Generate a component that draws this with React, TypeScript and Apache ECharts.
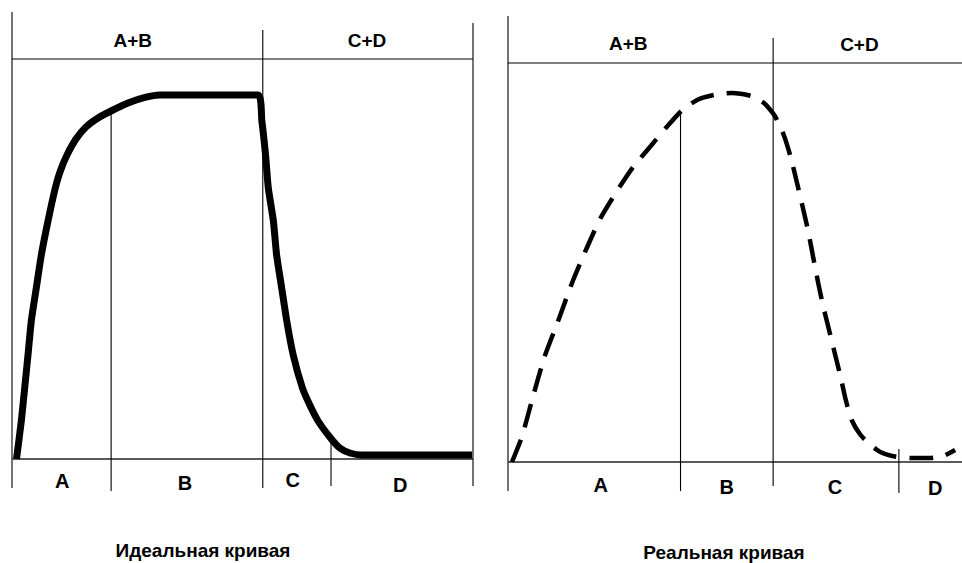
import React, { useEffect, useRef } from "react";
import * as echarts from "echarts";

// ---- Data (units: x 0..100 across a panel, y 0 = baseline, 100 = top line) ----
const idealCurve: number[][] = [
  [0.98, 0], [2.02, 9.5], [2.75, 17.75], [3.47, 26], [4.19, 34.5], [5.27, 42.75],
  [6.36, 51], [7.81, 59.5], [9.39, 67.75], [10.48, 72], [11.93, 76], [13.88, 80],
  [16.05, 83], [18.66, 85.25], [21.48, 87], [25.16, 89], [28.85, 90.4], [32.1, 91],
  [53.36, 91],
  [54.2, 84.5], [55, 76], [55.6, 67.75], [56.7, 59.5], [57.4, 51], [58.5, 42.75],
  [59.6, 34.5], [61, 26], [63, 17.75], [64.6, 13.5], [66.4, 9.5], [69.1, 5.25],
  [71.1, 2.75], [73.3, 1.5], [75.9, 1], [99.8, 1],
];
const realCurve: number[][] = [
  [0.87, 0], [3.04, 6.25], [5.42, 16], [8.03, 26.25], [11.28, 36], [14.1, 44.75],
  [17.35, 53.5], [20.4, 61], [23.86, 67.5], [27.55, 73.75], [31.45, 79], [35.14, 84],
  [38.18, 87.75], [41.65, 90.5], [45.34, 91.75], [49.24, 92.25], [53.58, 91.5],
  [56.4, 89.75], [58.79, 86.5], [60.74, 81.75], [62.26, 76.25], [63.56, 70.25],
  [64.86, 64], [66.16, 57.5], [67.25, 51], [68.33, 44.75], [69.41, 39], [70.72, 33],
  [72.02, 27], [73.32, 21], [74.4, 15.5], [75.7, 10.5], [77.66, 6.75], [79.83, 4.25],
  [82, 2.5], [84.6, 1.5], [88.72, 1], [93.06, 1], [95.9, 1.5], [98.48, 3],
];
// frame segments [x1, y1, x2, y2]
const idealFrame: number[][] = [
  [0, 111.75, 0, -7.25],
  [0, 100, 100, 100],
  [0, 0, 100, 0],
  [21.5, 87, 21.5, -8],
  [54.4, 107.25, 54.4, -7.25],
  [69.2, 4.5, 69.2, -6.75],
  [100, 109, 100, -6.75],
];
const realFrame: number[][] = [
  [0, 111.5, 0, -7.25],
  [0, 99.75, 100, 99.75],
  [0, 0, 100, 0],
  [38, 87.5, 38, -7.25],
  [58.4, 106, 58.4, -6],
  [86.1, 3.25, 86.1, -7.75],
];
const topLabels = ["A+B", "C+D"];
const bottomLabels = ["A", "B", "C", "D"];
const idealTopPos: number[][] = [[26.2, 104.75], [77, 104.75]];
const idealBottomPos: number[][] = [[10.9, -5.5], [37.5, -6], [60.9, -5.25], [84.2, -6.5]];
const realTopPos: number[][] = [[26.5, 104.75], [77.4, 104.5]];
const realBottomPos: number[][] = [[20.4, -5.75], [48.2, -6.25], [72, -6.25], [94.1, -6.5]];
const titles = ["Идеальная кривая", "Реальная кривая"];

const FONT_FAMILY = '"Liberation Sans", Arial, sans-serif';

function frameSeries(idx: number, frame: number[][]) {
  return {
    type: "custom",
    xAxisIndex: idx,
    yAxisIndex: idx,
    silent: true,
    clip: false,
    data: frame,
    encode: { x: [0, 2], y: [1, 3] },
    renderItem: (params: any, api: any) => {
      const p1 = api.coord([api.value(0), api.value(1)]);
      const p2 = api.coord([api.value(2), api.value(3)]);
      const isBase = api.value(1) === 0 && api.value(3) === 0;
      return {
        type: "line",
        shape: { x1: p1[0], y1: p1[1], x2: p2[0], y2: p2[1] },
        style: { stroke: isBase ? "#222" : "#000", lineWidth: isBase ? 1.6 : 1.1 },
      };
    },
  };
}

function labelSeries(idx: number, pos: number[][], texts: string[], size: number) {
  return {
    type: "custom",
    xAxisIndex: idx,
    yAxisIndex: idx,
    silent: true,
    clip: false,
    data: pos,
    renderItem: (params: any, api: any) => {
      const p = api.coord([api.value(0), api.value(1)]);
      return {
        type: "text",
        x: p[0],
        y: p[1],
        style: {
          text: texts[params.dataIndex],
          align: "center",
          verticalAlign: "middle",
          fontSize: size,
          fontWeight: "bold",
          fontFamily: FONT_FAMILY,
          fill: "#000",
        },
      };
    },
  };
}

export default function App() {
  const ref = useRef<HTMLDivElement>(null);
  useEffect(() => {
    if (!ref.current) return;
    const chart = echarts.init(ref.current, undefined, { renderer: "svg" });
    const hiddenX = (gi: number) => ({ type: "value", gridIndex: gi, min: 0, max: 100, show: false });
    const hiddenY = (gi: number) => ({ type: "value", gridIndex: gi, min: -8, max: 112, show: false });
    const titleStyle = { align: "center", verticalAlign: "middle", fontSize: 19, fontWeight: "bold", fontFamily: FONT_FAMILY, fill: "#000" };
    chart.setOption({
      animation: false,
      backgroundColor: "#fff",
      grid: [
        { left: 12, top: 11, width: 461, height: 480 },
        { left: 508, top: 14, width: 461, height: 480 },
      ],
      xAxis: [hiddenX(0), hiddenX(1)],
      yAxis: [hiddenY(0), hiddenY(1)],
      graphic: [
        { type: "text", x: 203, y: 550, style: { ...titleStyle, text: titles[0] } },
        { type: "text", x: 724, y: 552, style: { ...titleStyle, text: titles[1] } },
      ],
      series: [
        frameSeries(0, idealFrame),
        frameSeries(1, realFrame),
        labelSeries(0, idealTopPos, topLabels, 19),
        labelSeries(0, idealBottomPos, bottomLabels, 20),
        labelSeries(1, realTopPos, topLabels, 19),
        labelSeries(1, realBottomPos, bottomLabels, 20),
        {
          type: "line",
          xAxisIndex: 0,
          yAxisIndex: 0,
          data: idealCurve,
          smooth: 0.2,
          showSymbol: false,
          symbol: "none",
          lineStyle: { color: "#000", width: 7, join: "round", cap: "butt" },
        },
        {
          type: "line",
          xAxisIndex: 1,
          yAxisIndex: 1,
          data: realCurve,
          smooth: 0.2,
          showSymbol: false,
          symbol: "none",
          lineStyle: { color: "#000", width: 4.5, type: [24, 13], cap: "butt" },
        },
      ],
    });
    return () => chart.dispose();
  }, []);
  return (
    <div
      ref={ref}
      style={{ position: "absolute", left: 0, top: 0, width: 962, height: 563, background: "#fff" }}
    />
  );
}
